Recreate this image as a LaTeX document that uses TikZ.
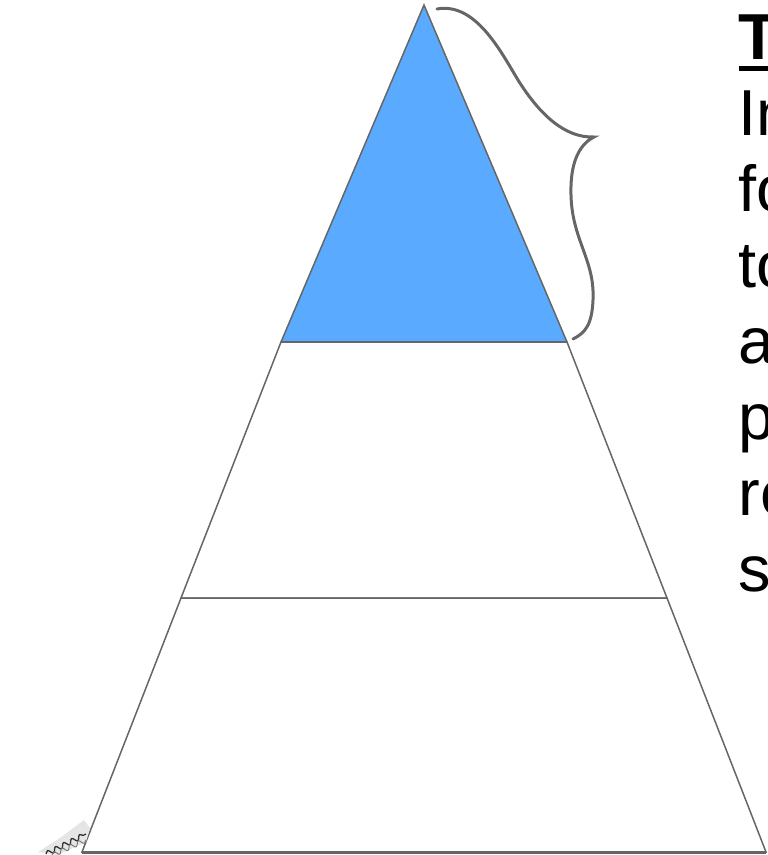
\documentclass[tikz,border=0pt]{standalone}
\usepackage{fontspec}
\setmainfont{Liberation Sans}
\usetikzlibrary{decorations.pathmorphing}
\definecolor{edgegrey}{HTML}{666666}
\definecolor{tierblue}{HTML}{5AABFF}
\tikzset{
  tier/.style={draw=edgegrey, line width=1.5pt, line join=miter},
  brace/.style={draw=edgegrey, line width=3pt, line cap=round},
  chain/.style={draw=black!80, line width=1.3pt, line join=round, decorate,
    decoration={snake, amplitude=2.4pt, segment length=9pt}},
  side/.style={inner sep=0pt, anchor=base west, font=\fontsize{65}{75.5}\selectfont}
}
\begin{document}
\begin{tikzpicture}[x=1pt,y=-1pt]
\useasboundingbox (0,0) rectangle (768,855);
% tiers
\coordinate (apex) at (424,5);
\coordinate (l1) at (281,342); \coordinate (r1) at (567,342);
\coordinate (l2) at (181,598); \coordinate (r2) at (667,598);
\coordinate (l3) at (82,852);  \coordinate (r3) at (766,852);
\filldraw[tier, fill=white] (l1) -- (r1) -- (r2) -- (l2) -- cycle;
\filldraw[tier, fill=white] (l2) -- (r2) -- (r3) -- (l3) -- cycle;
\filldraw[tier, fill=tierblue] (apex) -- (r1) -- (l1) -- cycle;
\draw[draw=edgegrey, line width=2.8pt] (l1) -- (r1);
\draw[draw=edgegrey, line width=3pt] (l3) -- (r3);
% squiggle at bottom left, just outside the left edge
\fill[black!10] (38,852) -- (60,838) -- (84,820) -- (90,828) -- (86,842) -- (58,855) -- cycle;
\coordinate (s0) at (46,854);
\coordinate (s1) at (86,834);
\coordinate (s2) at (52,855);
\coordinate (s3) at (86,840);
\draw[chain] (s0) -- (s1);
\draw[chain, line width=0.9pt, draw=black!55] (s2) -- (s3);
% brace
\coordinate (b0) at (437,9);
\coordinate (btip) at (594,137);
\coordinate (b1) at (573,339);
\draw[brace] (b0) .. controls (475,2) and (500,50) .. (518,80)
  .. controls (540,115) and (565,138) .. (btip)
  .. controls (578,145) and (570,165) .. (571,195)
  .. controls (572,240) and (595,260) .. (593,300)
  .. controls (592,325) and (585,333) .. (b1);
% clipped text column
\node[side, font=\fontsize{65}{75.5}\selectfont\bfseries] (t0) at (738.5,59) {T};
\draw[draw=black, line width=4.7pt] (738.5,68.5) -- (775,68.5);
\node[side] (t1) at (738.5,135.1) {In};
\node[side] (t2) at (738.5,211.2) {fo};
\node[side] (t3) at (738.5,287.3) {to};
\node[side] (t4) at (738.5,363.4) {a};
\node[side] (t5) at (738.5,439.5) {p};
\node[side] (t6) at (738.5,515.6) {re};
\node[side] (t7) at (738.5,591.7) {s};
\end{tikzpicture}
\end{document}
